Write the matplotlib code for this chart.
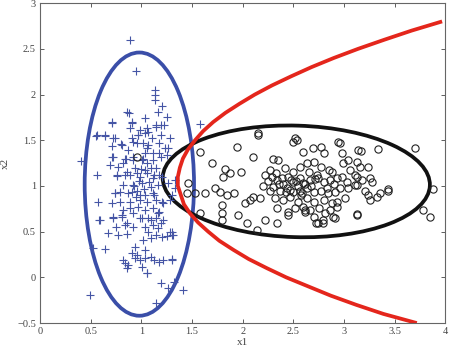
"""
两类样本散点 + 高斯椭圆 + 二次判别边界
"""

import matplotlib
matplotlib.use('Agg')
import matplotlib.pyplot as plt
from matplotlib.patches import Ellipse

plt.rcParams['font.family'] = ['Liberation Serif', 'DejaVu Serif']

# 第一类样本 (+)
plus_x = [0.89, 0.95, 1.13, 1.13, 1.13, 1.20, 0.86, 0.88, 1.04, 1.16, 0.71, 0.91, 1.25, 1.14, 1.22,
          0.89, 0.55, 0.64, 0.74, 0.97, 1.04, 1.07, 1.10, 1.28, 1.26, 0.71, 0.80, 0.92, 0.96, 1.02,
          1.07, 1.17, 1.17, 0.40, 0.71, 0.85, 0.92, 0.69, 0.82, 1.01, 1.06, 1.04, 1.11, 1.25, 1.58,
          0.56, 0.76, 0.86, 0.89, 0.96, 1.04, 1.12, 1.09, 1.20, 1.26, 1.16, 0.74, 0.79, 0.87, 0.96,
          1.04, 1.11, 0.57, 0.71, 0.79, 0.89, 0.99, 1.06, 1.14, 1.20, 1.28, 0.82, 0.89, 0.97, 1.04,
          1.11, 1.17, 0.58, 0.72, 0.81, 0.86, 0.99, 1.09, 1.14, 1.19, 0.75, 0.84, 0.92, 1.04, 1.11,
          1.16, 0.67, 0.77, 0.86, 1.07, 1.14, 1.30, 1.02, 1.09, 1.20, 1.25, 0.52, 0.64, 0.94, 1.04,
          0.91, 0.96, 0.82, 0.84, 0.87, 0.94, 0.99, 1.04, 1.09, 1.12, 1.17, 1.21, 1.30, 1.06, 1.19,
          1.26, 1.32, 1.41, 0.49, 1.14, 1.33, 1.33, 1.30, 1.28, 1.30, 0.71, 0.91, 0.99, 1.06, 1.14,
          1.19, 0.56, 0.64, 0.72, 0.91, 0.97, 1.19, 0.81, 0.87, 1.06, 1.23, 0.72, 0.84, 0.92, 1.02,
          1.11, 1.19, 0.77, 0.94, 1.14, 0.76, 0.84, 0.99, 1.06, 1.11, 1.17, 0.82, 0.92, 1.01, 1.09,
          0.74, 0.91, 0.99, 1.12, 1.21, 0.59, 0.72, 0.81, 0.92, 1.01, 1.07, 1.16, 1.21, 1.30, 1.31,
          0.86, 1.01, 1.06, 0.98, 1.03, 0.93, 1.08, 0.95, 1.00]
plus_y = [2.60, 2.26, 2.05, 2.00, 1.94, 1.87, 1.81, 1.80, 1.74, 1.81, 1.70, 1.70, 1.75, 1.64, 1.67,
          1.63, 1.55, 1.55, 1.53, 1.56, 1.58, 1.59, 1.53, 1.52, 1.42, 1.44, 1.46, 1.48, 1.47, 1.47,
          1.45, 1.47, 1.36, 1.27, 1.32, 1.30, 1.32, 1.23, 1.25, 1.28, 1.25, 1.36, 1.36, 1.34, 1.68,
          1.12, 1.11, 1.15, 1.12, 1.14, 1.17, 1.12, 1.20, 1.10, 1.03, 1.01, 0.92, 0.93, 0.92, 0.95,
          0.90, 0.92, 0.82, 0.81, 0.82, 0.82, 0.85, 0.82, 0.85, 0.82, 0.85, 0.74, 0.76, 0.77, 0.74,
          0.76, 0.71, 0.63, 0.65, 0.66, 0.60, 0.65, 0.63, 0.65, 0.60, 0.55, 0.57, 0.55, 0.55, 0.57,
          0.54, 0.48, 0.46, 0.47, 0.50, 0.46, 0.50, 0.41, 0.43, 0.44, 0.45, 0.32, 0.31, 0.33, 0.30,
          0.27, 0.24, 0.19, 0.16, 0.13, 0.21, 0.19, 0.21, 0.22, 0.19, 0.17, 0.19, 0.19, 0.05, -0.06,
          -0.12, -0.05, -0.14, -0.19, -0.28, 1.06, 0.98, 0.90, 0.50, 0.46, 1.69, 1.69, 1.61, 1.63, 1.67,
          1.67, 1.56, 1.56, 1.53, 1.52, 1.56, 1.56, 1.45, 1.39, 1.42, 1.42, 1.32, 1.30, 1.28, 1.30,
          1.28, 1.32, 1.21, 1.20, 1.20, 1.12, 1.12, 1.10, 1.14, 1.09, 1.12, 1.01, 1.01, 1.03, 0.99,
          0.92, 0.93, 0.90, 0.90, 0.81, 0.63, 0.66, 0.68, 0.70, 0.65, 0.65, 0.70, 0.63, 0.20, 0.46,
          0.10, 0.11, 0.05, 1.05, 0.97, 1.00, 1.04, 0.88, 1.18]

# 第二类样本 (o)
circ_x = [0.96, 2.15, 1.58, 1.94, 1.70, 2.10, 1.83, 1.88, 1.81, 1.98, 1.46, 1.73, 1.78, 1.85, 1.91,
          1.45, 1.53, 1.63, 1.80, 2.02, 2.07, 2.10, 2.17, 1.80, 1.95, 2.04, 2.14, 2.22, 1.58, 1.80,
          2.15, 2.54, 2.50, 2.52, 2.94, 3.14, 2.60, 2.69, 2.77, 2.80, 2.98, 2.99, 3.04, 2.30, 2.35,
          2.42, 2.50, 2.57, 2.64, 2.70, 2.77, 2.85, 2.88, 3.06, 3.11, 2.29, 2.34, 2.39, 2.45, 2.50,
          2.57, 2.60, 2.67, 2.74, 2.80, 2.86, 2.93, 2.98, 3.03, 3.11, 2.30, 2.37, 2.44, 2.50, 2.57,
          2.64, 2.70, 2.77, 2.84, 2.91, 2.96, 3.04, 2.32, 2.40, 2.47, 2.55, 2.64, 2.70, 2.80, 2.88,
          2.93, 3.01, 2.34, 2.45, 2.52, 2.60, 2.67, 2.75, 2.86, 2.93, 2.45, 2.70, 2.81, 2.91, 2.34,
          2.62, 2.74, 2.79, 3.13, 3.17, 3.34, 3.70, 3.13, 3.16, 3.24, 3.13, 3.18, 3.26, 3.28, 3.13,
          3.21, 3.24, 3.26, 3.33, 3.36, 3.44, 3.88, 3.78, 3.85, 3.13, 2.96, 3.44, 2.62, 2.72, 2.79,
          2.89, 2.20, 2.25, 2.22, 2.27, 2.40, 2.55, 2.62, 2.48, 2.33, 2.68, 2.73, 2.58, 2.43, 2.27,
          2.53, 2.66, 2.83, 2.90, 2.36, 2.47, 2.59, 2.71]
circ_y = [1.32, 1.56, 1.37, 1.43, 1.25, 1.32, 1.18, 1.14, 1.10, 1.15, 1.03, 0.98, 0.93, 0.90, 0.92,
          0.92, 0.92, 0.92, 0.79, 0.81, 0.85, 0.88, 0.87, 0.70, 0.68, 0.60, 0.52, 0.63, 0.70, 0.63,
          1.58, 1.50, 1.48, 1.52, 1.48, 1.39, 1.37, 1.41, 1.43, 1.36, 1.36, 1.25, 1.28, 1.30, 1.28,
          1.20, 1.15, 1.21, 1.25, 1.26, 1.21, 1.17, 1.15, 1.17, 1.12, 1.10, 1.06, 1.09, 1.10, 1.04,
          1.09, 1.03, 1.06, 1.09, 1.04, 1.06, 1.09, 1.10, 1.04, 1.01, 0.99, 0.95, 0.98, 0.93, 0.95,
          0.98, 0.93, 0.95, 0.92, 0.93, 0.98, 0.98, 0.87, 0.85, 0.88, 0.82, 0.87, 0.82, 0.85, 0.81,
          0.82, 0.87, 0.76, 0.71, 0.76, 0.77, 0.74, 0.76, 0.74, 0.77, 0.68, 0.66, 0.70, 0.65, 0.60,
          0.74, 0.60, 0.63, 0.68, 1.38, 1.40, 1.41, 1.26, 1.21, 1.21, 1.10, 1.06, 1.09, 1.04, 1.01,
          0.95, 0.90, 0.85, 0.88, 0.92, 0.95, 0.97, 0.74, 0.66, 0.69, 1.47, 0.97, 0.71, 0.60, 0.60,
          0.66, 1.00, 1.05, 1.12, 0.95, 1.02, 1.00, 1.02, 1.07, 1.14, 1.00, 1.12, 0.90, 0.93, 1.17,
          1.05, 1.15, 0.98, 1.02, 1.02, 0.96, 0.92, 1.08]

# 椭圆参数 (中心, 宽, 高, 角度)
blue_ell = (0.98, 1.02, 1.08, 2.88, 0)
black_ell = (2.53, 1.05, 2.64, 1.22, -2)

# 判别边界 (从图上读出的点)
bound_y = [2.80, 2.70, 2.60, 2.50, 2.40, 2.30, 2.20, 2.10, 2.00, 1.90, 1.80, 1.70, 1.60, 1.50,
           1.40, 1.30, 1.20, 1.10, 1.00, 0.90, 0.80, 0.70, 0.60, 0.50, 0.40, 0.30, 0.20, 0.10,
           0.00, -0.10, -0.20, -0.30, -0.40, -0.50]
bound_x = [3.97, 3.67, 3.40, 3.14, 2.90, 2.68, 2.48, 2.29, 2.12, 1.97, 1.83, 1.71, 1.61, 1.53,
           1.46, 1.41, 1.38, 1.36, 1.36, 1.39, 1.42, 1.48, 1.56, 1.66, 1.77, 1.91, 2.06, 2.24,
           2.43, 2.65, 2.87, 3.12, 3.39, 3.72]

x_ticks = [0, 0.5, 1, 1.5, 2, 2.5, 3, 3.5, 4]
y_ticks = [-0.5, 0, 0.5, 1, 1.5, 2, 2.5, 3]


def main():
    fig = plt.figure(figsize=(4.51, 3.5), dpi=100)
    ax = fig.add_axes([0.089, 0.077, 0.898, 0.914])

    ax.plot(plus_x, plus_y, '+', color='#4555a5', markersize=5.5, markeredgewidth=0.8)
    ax.plot(circ_x, circ_y, 'o', color='#222222', markerfacecolor='none',
            markersize=5.2, markeredgewidth=0.8)

    cx, cy, w, h, a = blue_ell
    ax.add_patch(Ellipse((cx, cy), w, h, angle=a, fill=False, edgecolor='#3a4ea8', linewidth=2.7))
    cx, cy, w, h, a = black_ell
    ax.add_patch(Ellipse((cx, cy), w, h, angle=a, fill=False, edgecolor='#111111', linewidth=2.7))

    ax.plot(bound_x, bound_y, color='#e4261c', linewidth=2.7, solid_capstyle='butt')

    ax.set_xlim(0, 4)
    ax.set_ylim(-0.5, 3)
    ax.set_xticks(x_ticks)
    ax.set_xticklabels(['0', '0.5', '1', '1.5', '2', '2.5', '3', '3.5', '4'])
    ax.set_yticks(y_ticks)
    ax.set_yticklabels(['\u22120.5', '0', '0.5', '1', '1.5', '2', '2.5', '3'])
    ax.tick_params(direction='in', top=True, right=True, length=3, width=0.6,
                   labelsize=7.5, colors='#444444', pad=3)
    for s in ax.spines.values():
        s.set_color('#666666')
        s.set_linewidth(0.8)

    ax.set_xlabel('x1', fontsize=8, color='#444444', labelpad=1)
    ax.set_ylabel('x2', fontsize=8, color='#444444')
    ax.yaxis.set_label_coords(-0.075, 0.5)

    fig.savefig('out.png', dpi=100)


if __name__ == '__main__':
    main()
